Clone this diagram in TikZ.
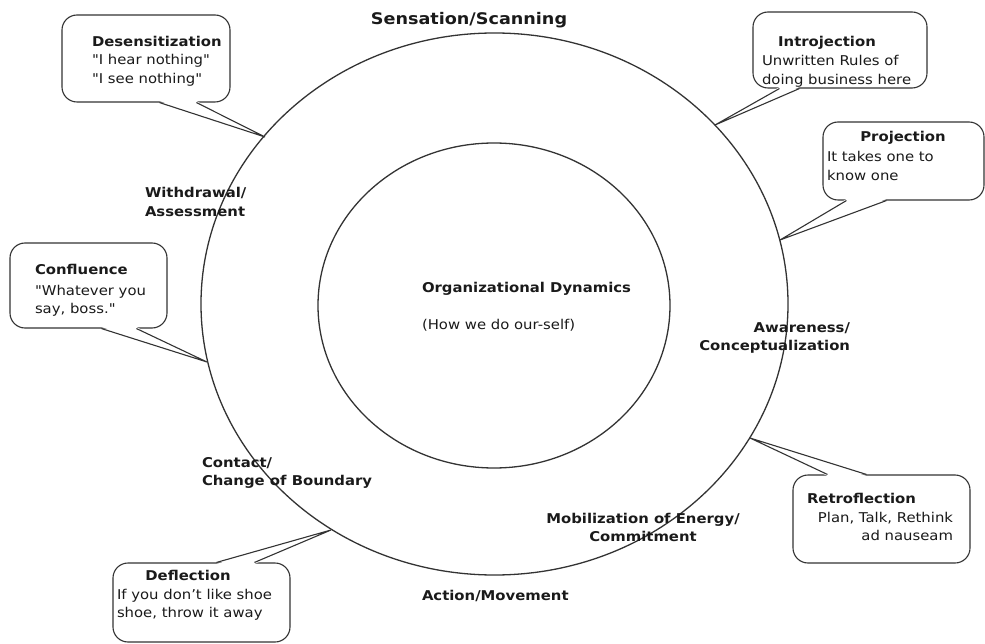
\documentclass[tikz,border=0pt]{standalone}
\usepackage{fontspec}
\setmainfont{DejaVu Sans}[FakeStretch=1.1, Ligatures=TeXOff]
\usetikzlibrary{calc}
\definecolor{ink}{HTML}{1A1A1A}
\definecolor{linec}{HTML}{333333}
\newcommand\txtfont{\fontsize{13.5}{18.5}\selectfont}
\newcommand\ttlfont{\fontsize{16}{20}\selectfont\bfseries}
\newcommand\blkL[1]{\begin{tabular}[t]{@{}l@{}}#1\end{tabular}}
\newcommand\blkC[1]{\begin{tabular}[t]{@{}c@{}}#1\end{tabular}}
\newcommand\blkR[1]{\begin{tabular}[t]{@{}r@{}}#1\end{tabular}}
\begin{document}
\begin{tikzpicture}[x=1pt,y=-1pt,
  ring/.style={draw=linec, line width=1.3pt},
  bubble/.style={draw=linec, fill=white, rounded corners=15pt, line width=1.1pt, inner sep=0pt},
  pointer/.style={draw=linec, line width=1.1pt, line join=miter},
  txt/.style={inner sep=0pt, outer sep=0pt, text=ink, font=\txtfont},
  bold/.style={txt, font=\txtfont\bfseries}]
\useasboundingbox (0,0) rectangle (985,644);

% rings
\draw[ring] (494.5,304) ellipse [x radius=293.5pt, y radius=271pt];
\draw[ring] (494,305.5) ellipse [x radius=176pt, y radius=162.5pt];

% pointer tips on the outer ring
\coordinate (tDes) at (265,137);
\coordinate (tIntro) at (715,125);
\coordinate (tProj) at (780,240);
\coordinate (tConf) at (207,362);
\coordinate (tRetro) at (750,438);
\coordinate (tDefl) at (331,530);

% callout boxes
\node[bubble, minimum width=168pt, minimum height=87pt] (bDes) at (146,58.5) {};
\node[bubble, minimum width=174pt, minimum height=76pt] (bIntro) at (840,50) {};
\node[bubble, minimum width=161pt, minimum height=78pt] (bProj) at (903.5,161) {};
\node[bubble, minimum width=157pt, minimum height=85pt] (bConf) at (88.5,285.5) {};
\node[bubble, minimum width=177pt, minimum height=88pt] (bRetro) at (881.5,519) {};
\node[bubble, minimum width=177pt, minimum height=79pt] (bDefl) at (201.5,602.5) {};

% pointer wedges (bottom-side)
\foreach \b/\t/\a/\c in {bDes/tDes/98/135, bIntro/tIntro/27/47, bProj/tProj/24/64, bConf/tConf/92/127}{
  \fill[white] ($(\b.south west)+(\a,-1.5)$) -- (\t) -- ($(\b.south west)+(\c,-1.5)$) -- cycle;
  \draw[pointer] ($(\b.south west)+(\a,0)$) -- (\t) -- ($(\b.south west)+(\c,0)$);
}
% pointer wedges (top-side)
\foreach \b/\t/\a/\c in {bRetro/tRetro/35/74, bDefl/tDefl/104/142}{
  \fill[white] ($(\b.north west)+(\a,1.5)$) -- (\t) -- ($(\b.north west)+(\c,1.5)$) -- cycle;
  \draw[pointer] ($(\b.north west)+(\a,0)$) -- (\t) -- ($(\b.north west)+(\c,0)$);
}

% callout texts
\node[bold, anchor=base west] (hDes) at (92,47) {Desensitization};
\node[txt, anchor=base west] (xDes) at (92,65) {\blkL{"I hear nothing"\\"I see nothing"}};
\node[bold, anchor=base] (hIntro) at (827,47) {Introjection};
\node[txt, anchor=base west] (xIntro) at (762,66) {\blkL{Unwritten Rules of\\doing business here}};
\node[bold, anchor=base] (hProj) at (903,142) {Projection};
\node[txt, anchor=base west] (xProj) at (827,162) {\blkL{It takes one to\\know one}};
\node[bold, anchor=base west] (hConf) at (35,275) {Confluence};
\node[txt, anchor=base west] (xConf) at (35,295) {\blkL{"Whatever you\\say, boss."}};
\node[bold, anchor=base west] (hRetro) at (807,503) {Retroflection};
\node[txt, anchor=base east] (xRetro) at (953,522) {\blkR{Plan, Talk, Rethink\\ad nauseam}};
\node[bold, anchor=base] (hDefl) at (188,580) {Deflection};
\node[txt, anchor=base west] (xDefl) at (117,599) {\blkL{If you don’t like shoe\\shoe, throw it away}};

% ring labels
\node[txt, font=\ttlfont, anchor=base] (lSens) at (469,25) {Sensation/Scanning};
\node[bold, anchor=base west] (lWith) at (145,198) {\blkL{Withdrawal/\\Assessment}};
\node[bold, anchor=base east] (lAware) at (850,332) {\blkR{Awareness/\\Conceptualization}};
\node[bold, anchor=base west] (lCont) at (202,467) {\blkL{Contact/\\Change of Boundary}};
\node[bold, anchor=base] (lMob) at (643,523) {\blkC{Mobilization of Energy/\\Commitment}};
\node[bold, anchor=base west] (lAct) at (422,600) {Action/Movement};
\node[bold, anchor=base west] (lOrg) at (422,293) {Organizational Dynamics};
\node[txt, anchor=base west] (lHow) at (422,329) {(How we do our-self)};
\end{tikzpicture}
\end{document}
